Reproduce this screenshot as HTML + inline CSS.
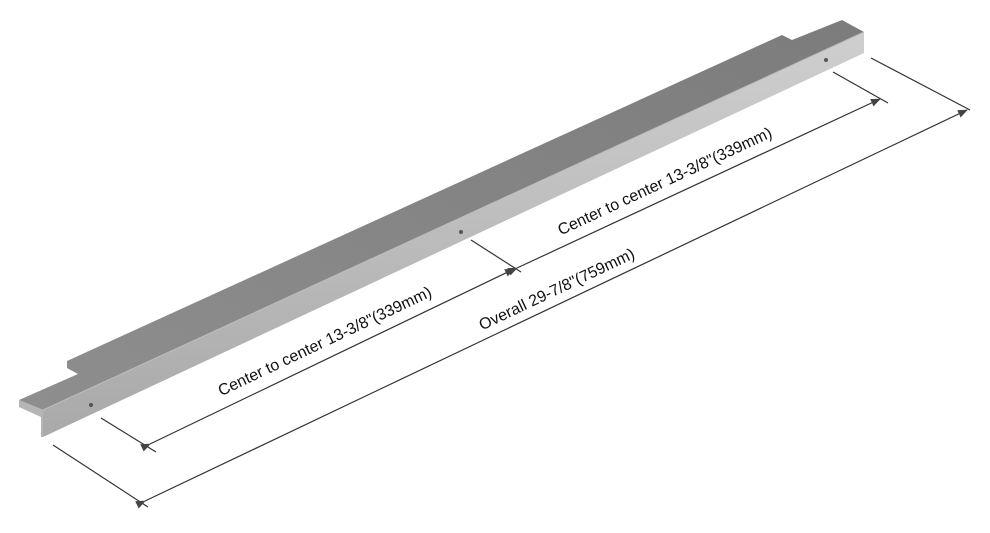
<!DOCTYPE html>
<html><head><style>body{margin:0;background:#fff}</style></head><body>
<svg width="990" height="528" viewBox="0 0 990 528" xmlns="http://www.w3.org/2000/svg" font-family="Liberation Sans, sans-serif">
<defs>
<linearGradient id="top" x1="0" y1="1" x2="1" y2="0"><stop offset="0" stop-color="#8e8e8e"/><stop offset="1" stop-color="#7c7c7c"/></linearGradient>
<linearGradient id="front" x1="0" y1="0" x2="0" y2="1"><stop offset="0" stop-color="#cfcfcf"/><stop offset="1" stop-color="#a9a9a9"/></linearGradient>
<marker id="ar" markerWidth="10" markerHeight="8" refX="9" refY="4" orient="auto" markerUnits="userSpaceOnUse"><path d="M0,0 L10,4 L0,8 Z" fill="#444"/></marker>
</defs>
<polygon points="19,400 78,374 67,368 67,361 782,35 792,40 842,20 864,32 43,410" fill="url(#top)"/>
<polygon points="19,400 43,410 43,437 41,437 41,417 19,407" fill="#b5b5b5"/>
<polygon points="43,410 864,32 864,53 43,437" fill="url(#front)"/>
<line x1="43" y1="410" x2="864" y2="32" stroke="#bdbdbd" stroke-width="1"/>
<circle cx="91" cy="405" r="2" fill="#555"/>
<circle cx="461" cy="232" r="2" fill="#555"/>
<circle cx="826" cy="60" r="2" fill="#555"/>
<g stroke="#333" stroke-width="1.2" fill="none">
<line x1="53" y1="445" x2="148" y2="507"/>
<line x1="871" y1="58" x2="970" y2="110"/>
<line x1="101" y1="418" x2="156" y2="452"/>
<line x1="471" y1="240" x2="521" y2="272"/>
<line x1="833" y1="72" x2="888" y2="103"/>
<line x1="145" y1="501" x2="967" y2="110" marker-start="url(#ar)" marker-end="url(#ar)"/>
<line x1="150" y1="444" x2="514" y2="269" marker-start="url(#ar)" marker-end="url(#ar)"/>
<line x1="517" y1="268" x2="880" y2="99" marker-start="url(#ar)" marker-end="url(#ar)"/>
</g>
<g font-size="16" fill="#111" text-anchor="middle">
<text transform="translate(327,346) rotate(-25.4)">Center to center 13-3/8"(339mm)</text>
<text transform="translate(667,186) rotate(-25)">Center to center 13-3/8"(339mm)</text>
<text transform="translate(559,294) rotate(-25.4)">Overall 29-7/8"(759mm)</text>
</g>
</svg>
</body></html>
